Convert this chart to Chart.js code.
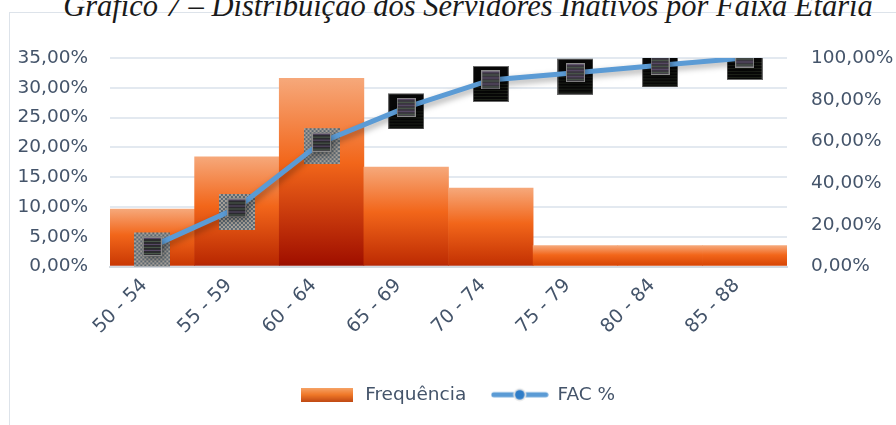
<!DOCTYPE html>
<html><head><meta charset="utf-8">
<script src="https://cdn.jsdelivr.net/npm/chart.js@4/dist/chart.umd.min.js"></script>
<style>
html,body{margin:0;padding:0;background:#fff;width:896px;height:425px;overflow:hidden;}
#frame{position:absolute;left:9px;top:12px;width:900px;height:430px;border:1px solid #dde3ea;box-sizing:border-box;}
#title{position:absolute;left:20px;top:-11px;width:896px;text-align:center;font-family:"Liberation Serif",serif;font-style:italic;font-size:30.5px;color:#1a1a1a;white-space:nowrap;line-height:34px;}
#wrap{position:absolute;left:0;top:0;width:896px;height:425px;}
</style></head>
<body>
<div id="frame"></div>
<div id="title">Gráfico 7 – Distribuição dos Servidores Inativos por Faixa Etária</div>
<div id="wrap"><canvas id="c" width="896" height="425"></canvas></div>
<script>
const categories = ['50 - 54','55 - 59','60 - 64','65 - 69','70 - 74','75 - 79','80 - 84','85 - 88'];
const frequencia = [9.65, 18.42, 31.58, 16.67, 13.16, 3.51, 3.51, 3.51];
const facPct = [9.65, 28.07, 59.65, 76.32, 89.47, 92.98, 96.49, 100.00];
const seriesNames = ['Frequência', 'FAC %'];

const FONT = '"DejaVu Sans", sans-serif';
const FSIZE = 18.5;
const TXT = '#44546a';

function fmt(v){ return v.toFixed(2).replace('.', ',') + '%'; }

// marker images
function outerImg(gray){
  const c = document.createElement('canvas'); c.width = 36; c.height = 44;
  const x = c.getContext('2d');
  if (gray){
    for (let i=0;i<36;i+=2) for (let j=8;j<44;j+=2){
      x.fillStyle = ((i+j)/2)%2 ? '#5e6a74' : '#a8a29a';
      x.fillRect(i,j,2,2);
    }
  } else {
    x.fillStyle = '#080808'; x.fillRect(0,8,36,36);
    x.strokeStyle = '#6a6a6a'; x.lineWidth = 1; x.strokeRect(0.5,8.5,35,35);
    x.fillStyle = '#1c2018';
    for (let j=26;j<44;j+=3) x.fillRect(1,j,34,1);
  }
  return c;
}
function innerImg(gray){
  const c = document.createElement('canvas'); c.width = 19; c.height = 19;
  const x = c.getContext('2d');
  x.fillStyle = gray ? '#2a2a2e' : '#3a3640'; x.fillRect(0,0,19,19);
  for (let j=1;j<19;j+=3){ x.fillStyle = j%2 ? '#5a4a6a' : '#4a5a4a'; x.fillRect(1,j,17,1); }
  x.strokeStyle = '#8a8a8a'; x.lineWidth = 1; x.strokeRect(0.5,0.5,18,18);
  return c;
}
const outerStyles = facPct.map((v,i)=> outerImg(i<3));
const innerStyles = facPct.map((v,i)=> innerImg(i<3));

// legend images
const legBar = (()=>{ const c=document.createElement('canvas'); c.width=52; c.height=14;
  const x=c.getContext('2d'); const g=x.createLinearGradient(0,0,0,14);
  g.addColorStop(0,'#f6a468'); g.addColorStop(0.5,'#f07828'); g.addColorStop(1,'#c04a14');
  x.fillStyle=g; x.fillRect(0,0,52,14); return c; })();
const legLine = (()=>{ const c=document.createElement('canvas'); c.width=58; c.height=16;
  const x=c.getContext('2d'); x.strokeStyle='#5b9bd5'; x.lineWidth=5; x.lineCap='round';
  x.beginPath(); x.moveTo(3,8); x.lineTo(55,8); x.stroke();
  x.beginPath(); x.arc(29,8,6.5,0,Math.PI*2); x.fillStyle='#e8e8e8'; x.fill();
  x.beginPath(); x.arc(29,8,4.8,0,Math.PI*2); x.fillStyle='#2f7dc8'; x.fill();
  return c; })();

function mix(a,b,t){
  const pa=[1,3,5].map(i=>parseInt(a.substr(i,2),16)), pb=[1,3,5].map(i=>parseInt(b.substr(i,2),16));
  return 'rgb(' + pa.map((v,k)=>Math.round(v+(pb[k]-v)*t)).join(',') + ')';
}

const shadowPlugin = {
  id:'lineShadow',
  afterLayout(chart){
    if (chart.legend){ chart.legend.left += 9; chart.legend.right += 9; }
  },
  beforeDatasetDraw(chart, args){
    if (args.index === 2){
      const c = chart.ctx; c.save();
      c.shadowColor = 'rgba(0,0,0,0.35)'; c.shadowBlur = 6; c.shadowOffsetX = 2; c.shadowOffsetY = 3;
    }
  },
  afterDatasetDraw(chart, args){ if (args.index === 2) chart.ctx.restore(); }
};

new Chart(document.getElementById('c'), {
  data: {
    labels: categories,
    datasets: [
      {
        type:'bar', label: seriesNames[0], data: frequencia, yAxisID:'y', order:3,
        barPercentage:1, categoryPercentage:1, borderWidth:0,
        backgroundColor: (ctx)=>{
          const chart = ctx.chart;
          if (!chart.chartArea || ctx.type !== 'data') return '#f26a1b';
          const ys = chart.scales.y;
          const top = ys.getPixelForValue(ctx.raw), bot = ys.getPixelForValue(0);
          const h = bot - top;
          const g = chart.ctx.createLinearGradient(0, top, 0, bot);
          g.addColorStop(0, '#f6a87a');
          g.addColorStop(0.45, '#f2661a');
          const bottom = mix('#dc4a06', '#a31200', Math.min(1, h/186));
          g.addColorStop(0.97, bottom);
          g.addColorStop(1, mix('#b84020', '#961000', Math.min(1, h/186)));
          return g;
        }
      },
      {
        type:'line', label:'_outer', data: facPct, yAxisID:'y1', order:2, showLine:false,
        pointStyle: outerStyles, pointRadius: 18, pointHoverRadius: 18
      },
      {
        type:'line', label: seriesNames[1], data: facPct, yAxisID:'y1', order:1,
        borderColor:'#5b9bd5', borderWidth:5, tension:0, fill:false,
        pointStyle: innerStyles, pointRadius: 9, pointHoverRadius: 9
      }
    ]
  },
  options: {
    responsive:false, animation:false, devicePixelRatio:1,
    layout:{ padding:{ top:58, bottom:11, left:0, right:0 } },
    plugins:{
      tooltip:{enabled:false},
      legend:{
        position:'bottom',
        labels:{
          usePointStyle:true, pointStyleWidth:57, padding:25,
          color:TXT, font:{family:FONT, size:FSIZE},
          generateLabels: ()=>[
            {text: seriesNames[0], pointStyle: legBar, fontColor:TXT, datasetIndex:0, lineWidth:0, strokeStyle:'transparent'},
            {text: seriesNames[1], pointStyle: legLine, fontColor:TXT, datasetIndex:2, lineWidth:0, strokeStyle:'transparent'}
          ]
        }
      }
    },
    scales:{
      x:{
        grid:{display:false},
        border:{display:true, color:'#d3d8df', width:2},
        ticks:{color:TXT, font:{family:FONT, size:19}, minRotation:45, maxRotation:45, padding:0, labelOffset:-8},
        afterFit:(s)=>{ s.height = 94; }
      },
      y:{
        position:'left', min:0, max:35,
        ticks:{stepSize:5, color:TXT, font:{family:FONT, size:FSIZE}, padding:22, callback:(v)=>fmt(v)},
        grid:{color:'#e3e9f0', lineWidth:2, drawTicks:false},
        border:{display:false},
        afterFit:(s)=>{ s.width = 110; }
      },
      y1:{
        position:'right', min:0, max:100,
        ticks:{stepSize:20, color:TXT, font:{family:FONT, size:FSIZE}, padding:24, callback:(v)=>fmt(v)},
        grid:{display:false, drawTicks:false},
        border:{display:false},
        afterFit:(s)=>{ s.width = 109; }
      }
    }
  },
  plugins:[shadowPlugin]
});
</script>
</body></html>
